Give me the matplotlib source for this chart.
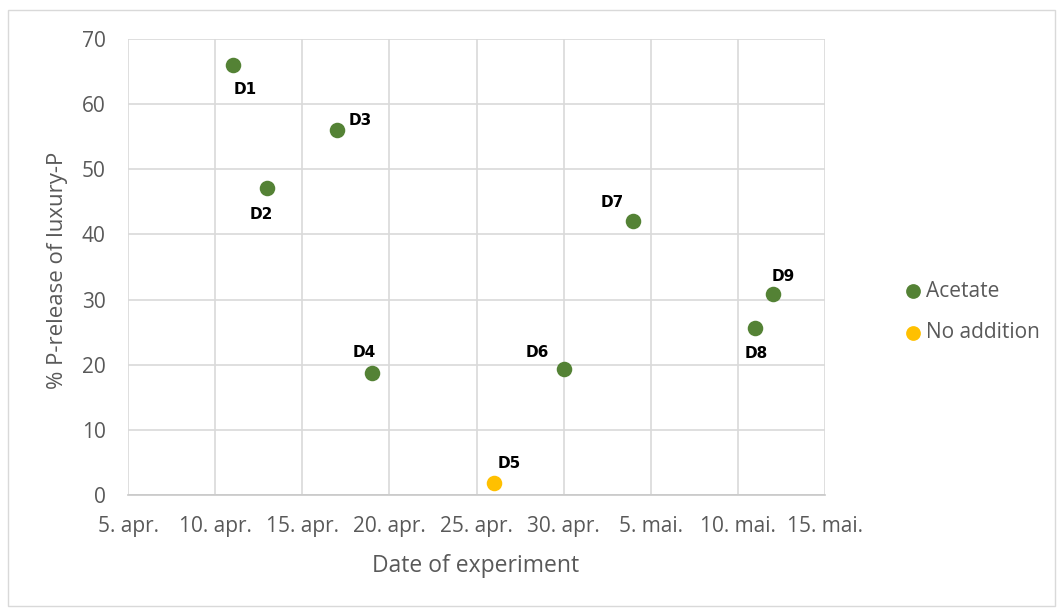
import matplotlib
matplotlib.use("Agg")
import matplotlib.pyplot as plt
import matplotlib.dates as mdates
import numpy as np
import datetime as dt

# Data
labels = ["D1", "D2", "D3", "D4", "D5", "D6", "D7", "D8", "D9"]
dates = ["2021-04-11", "2021-04-13", "2021-04-17", "2021-04-19", "2021-04-26",
         "2021-04-30", "2021-05-04", "2021-05-11", "2021-05-12"]
values = [66.0, 47.1, 56.0, 18.7, 1.8, 19.3, 42.1, 25.6, 30.8]
series = ["Acetate", "Acetate", "Acetate", "Acetate", "No addition",
          "Acetate", "Acetate", "Acetate", "Acetate"]
tick_dates = ["2021-04-05", "2021-04-10", "2021-04-15", "2021-04-20", "2021-04-25",
              "2021-04-30", "2021-05-05", "2021-05-10", "2021-05-15"]
tick_labels = ["5. apr.", "10. apr.", "15. apr.", "20. apr.", "25. apr.",
               "30. apr.", "5. mai.", "10. mai.", "15. mai."]
y_ticks = [0, 10, 20, 30, 40, 50, 60, 70]
series_names = ["Acetate", "No addition"]
series_colors = {"Acetate": "#548235", "No addition": "#FFC000"}
# label offsets in pixels (dx, dy)
label_offsets = [(13, -24), (-6, -26), (23, 10), (-8, 21), (15, 20),
                 (-26, 17), (-21, 18), (1, -25), (11, 18)]

xd = mdates.date2num([dt.datetime.strptime(d, "%Y-%m-%d") for d in dates])
xt = mdates.date2num([dt.datetime.strptime(d, "%Y-%m-%d") for d in tick_dates])

fig = plt.figure(figsize=(10.59, 6.10), dpi=100)
fig.patch.set_facecolor("white")
# outer border
fig.add_artist(plt.Rectangle((8/1059, 1 - 606/610), 1047/1059, 596/610,
                             transform=fig.transFigure, fill=False,
                             edgecolor="#D9D9D9", linewidth=1))

ax = fig.add_axes([128/1059, 1 - 495/610, 697/1059, 456/610])
font = "Open Sans"
tick_color = "#595959"

for name in series_names:
    idx = [i for i, s in enumerate(series) if s == name]
    ax.scatter(xd[idx], np.array(values)[idx], s=125, color=series_colors[name],
               zorder=3, label=name, linewidths=0)

for i, lab in enumerate(labels):
    ax.annotate(lab, (xd[i], values[i]), xytext=label_offsets[i],
                textcoords="offset pixels", ha="center", va="center",
                fontsize=11, fontweight="bold", color="black",
                family="DejaVu Sans", zorder=4)

ax.set_xlim(xt[0], xt[-1])
ax.set_ylim(0, 70)
ax.set_xticks(xt)
ax.set_xticklabels(tick_labels)
ax.set_yticks(y_ticks)
ax.grid(True, color="#D9D9D9", linewidth=1.2)
ax.set_axisbelow(True)
for s in ["top", "right", "left"]:
    ax.spines[s].set_visible(False)
ax.spines["bottom"].set_color("#C8C8C8")
ax.spines["bottom"].set_linewidth(1.2)
ax.tick_params(length=0, labelsize=15, labelcolor=tick_color)
ax.tick_params(axis="x", pad=15)
ax.tick_params(axis="y", pad=16)
for t in ax.get_xticklabels() + ax.get_yticklabels():
    t.set_family(font)

ax.set_xlabel("Date of experiment", fontsize=16.5, color=tick_color, family=font)
ax.set_ylabel("% P-release of luxury-P", fontsize=16, color=tick_color, family=font)
ax.xaxis.set_label_coords((476 - 128) / 697, (495 - 566) / 456)
ax.xaxis.label.set_va("center")
ax.yaxis.set_label_coords((58 - 128) / 697, (495 - 270) / 456)
ax.yaxis.label.set_va("center")

leg = fig.legend(loc="center left", bbox_to_anchor=(882/1059, 1 - 312/610),
                 frameon=False, prop={"family": font, "size": 15},
                 labelcolor=tick_color, handletextpad=0.0, labelspacing=1.0,
                 markerscale=0.95, handlelength=1.2)

fig.savefig("out.png", dpi=100)
